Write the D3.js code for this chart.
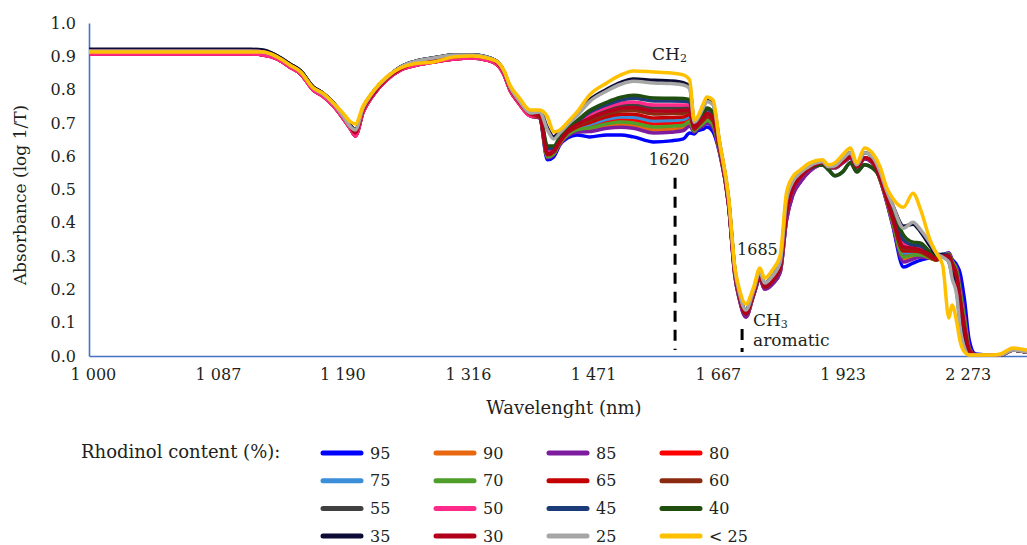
<!DOCTYPE html>
<html lang="en">
<head>
<meta charset="UTF-8">
<title>Absorbance spectra by rhodinol content</title>
<script src="https://d3js.org/d3.v7.min.js"></script>
<style>
  body { margin: 0; background: #fff; }
  svg text { font-family: "DejaVu Serif", serif; fill: #231f20; }
</style>
</head>
<body>
<div id="chart"></div>
<script>
// x positions of the sampled points, in wavenumber (cm-1); the axis is labelled in nm
const wavenumbers = [10020, 9440, 8990, 8910, 8820, 8740, 8670, 8590, 8530, 8460, 8400, 8350,
  8320, 8270, 8210, 8120, 8030, 7950, 7820, 7690, 7570, 7480, 7410, 7370, 7330, 7270, 7200,
  7140, 7090, 7050, 7010,
  6960, 6900, 6820, 6710, 6620, 6540, 6410, 6300, 6220, 6180, 6150, 6130, 6090, 6070, 6030, 5990,
  5930, 5890, 5860, 5820, 5770, 5730, 5700, 5650, 5600,
  5560, 5520, 5470, 5410, 5330, 5290, 5250, 5200, 5150, 5110, 5060, 5010,
  4960, 4920, 4880, 4810, 4750, 4700, 4640, 4600, 4560, 4520, 4500, 4470, 4450, 4420, 4390, 4350,
  4250, 4190, 4110, 4020];

const tickWavelengths = [1000, 1087, 1190, 1316, 1471, 1667, 1923, 2273];
const yTicks = [0, 0.1, 0.2, 0.3, 0.4, 0.5, 0.6, 0.7, 0.8, 0.9, 1.0];

const contents = ["95", "90", "85", "80", "75", "70", "65", "60", "55", "50", "45", "40", "35", "30", "25", "< 25"];
const colors = ["#0000ff", "#e8680f", "#7d1c9e", "#ff0000", "#3a8fd8", "#4f9f2a", "#c40000", "#8a2a10",
  "#404040", "#ff2a8a", "#1b3c78", "#1f4e0f", "#0b0b35", "#b2001a", "#a6a6a6", "#ffc000"];

const rh95 = [0.907,0.907,0.907,0.904,0.892,0.868,0.847,0.799,0.781,0.751,0.715,0.682,
  0.661,0.733,0.781,0.829,0.859,0.871,0.883,0.892,0.895,0.889,0.874,0.847,0.799,0.757,0.721,
  0.715,0.589,0.598,0.634,
  0.655,0.664,0.658,0.664,0.664,0.658,0.643,0.646,0.652,0.670,0.667,0.676,0.682,0.688,0.673,0.613,
  0.450,0.240,0.168,0.117,0.183,0.231,0.201,0.216,0.252,
  0.408,0.483,0.523,0.556,0.574,0.565,0.565,0.580,0.595,0.565,0.592,0.580,
  0.529,0.465,0.393,0.267,0.279,0.288,0.294,0.294,0.303,0.309,0.291,0.273,0.252,0.168,0.048,0.006,
  0.003,0.003,0.018,0.012];
const rh90 = [0.907,0.907,0.907,0.904,0.892,0.868,0.847,0.799,0.781,0.751,0.715,0.682,
  0.661,0.733,0.781,0.829,0.859,0.871,0.883,0.892,0.895,0.889,0.874,0.847,0.799,0.757,0.721,
  0.715,0.598,0.607,0.637,
  0.663,0.676,0.680,0.691,0.695,0.692,0.679,0.681,0.685,0.697,0.674,0.683,0.695,0.703,0.689,0.619,
  0.450,0.240,0.168,0.117,0.183,0.231,0.201,0.216,0.252,
  0.408,0.483,0.523,0.556,0.574,0.565,0.565,0.580,0.595,0.565,0.592,0.580,
  0.529,0.468,0.399,0.291,0.297,0.300,0.294,0.291,0.303,0.306,0.285,0.258,0.204,0.114,0.024,0.003,
  0.003,0.003,0.018,0.012];
const rh85 = [0.907,0.907,0.907,0.904,0.892,0.868,0.847,0.799,0.781,0.751,0.715,0.682,
  0.661,0.733,0.781,0.829,0.859,0.871,0.883,0.892,0.895,0.889,0.874,0.847,0.799,0.757,0.721,
  0.715,0.595,0.604,0.637,
  0.661,0.673,0.674,0.684,0.687,0.684,0.670,0.672,0.677,0.691,0.672,0.681,0.692,0.700,0.685,0.618,
  0.450,0.240,0.168,0.117,0.183,0.231,0.201,0.216,0.252,
  0.408,0.483,0.523,0.556,0.574,0.565,0.565,0.580,0.595,0.565,0.592,0.580,
  0.529,0.468,0.396,0.282,0.291,0.297,0.294,0.291,0.303,0.309,0.285,0.264,0.213,0.123,0.027,0.003,
  0.003,0.003,0.018,0.012];
const rh80 = [0.907,0.907,0.907,0.904,0.892,0.868,0.847,0.799,0.781,0.751,0.715,0.682,
  0.661,0.733,0.781,0.829,0.859,0.871,0.883,0.892,0.895,0.889,0.874,0.847,0.799,0.757,0.721,
  0.718,0.601,0.610,0.640,
  0.667,0.682,0.690,0.704,0.710,0.709,0.697,0.698,0.701,0.711,0.678,0.687,0.702,0.711,0.698,0.622,
  0.456,0.249,0.177,0.126,0.189,0.240,0.207,0.225,0.267,
  0.432,0.502,0.538,0.565,0.580,0.568,0.568,0.583,0.598,0.568,0.595,0.583,
  0.532,0.471,0.405,0.303,0.309,0.306,0.294,0.288,0.300,0.306,0.282,0.252,0.192,0.102,0.021,0.003,
  0.003,0.003,0.018,0.012];
const rh75 = [0.916,0.916,0.916,0.913,0.898,0.874,0.853,0.805,0.787,0.757,0.721,0.688,
  0.670,0.739,0.784,0.832,0.862,0.877,0.889,0.898,0.901,0.895,0.880,0.853,0.805,0.763,0.727,
  0.718,0.601,0.610,0.643,
  0.669,0.685,0.696,0.711,0.718,0.717,0.706,0.707,0.710,0.718,0.680,0.689,0.705,0.715,0.702,0.624,
  0.456,0.249,0.177,0.126,0.189,0.240,0.207,0.225,0.267,
  0.432,0.502,0.538,0.565,0.580,0.568,0.568,0.583,0.598,0.568,0.595,0.583,
  0.532,0.474,0.408,0.309,0.312,0.309,0.297,0.288,0.300,0.306,0.282,0.249,0.186,0.096,0.018,0.003,
  0.003,0.003,0.018,0.012];
const rh70 = [0.916,0.916,0.916,0.913,0.898,0.874,0.853,0.805,0.787,0.757,0.721,0.688,
  0.670,0.739,0.784,0.832,0.862,0.877,0.889,0.898,0.901,0.895,0.880,0.853,0.805,0.763,0.727,
  0.718,0.598,0.607,0.640,
  0.665,0.679,0.685,0.697,0.703,0.700,0.688,0.690,0.693,0.704,0.676,0.685,0.699,0.707,0.694,0.621,
  0.456,0.249,0.177,0.126,0.189,0.240,0.207,0.225,0.267,
  0.432,0.502,0.538,0.565,0.580,0.568,0.568,0.583,0.598,0.568,0.595,0.583,
  0.529,0.471,0.402,0.297,0.303,0.303,0.294,0.288,0.300,0.306,0.285,0.255,0.198,0.108,0.021,0.003,
  0.003,0.003,0.018,0.012];
const rh65 = [0.916,0.916,0.916,0.913,0.898,0.874,0.853,0.805,0.787,0.757,0.721,0.688,
  0.670,0.739,0.784,0.832,0.862,0.877,0.889,0.898,0.901,0.895,0.880,0.853,0.805,0.763,0.727,
  0.718,0.604,0.613,0.643,
  0.671,0.688,0.701,0.718,0.726,0.726,0.715,0.716,0.718,0.725,0.681,0.690,0.709,0.719,0.706,0.625,
  0.456,0.249,0.177,0.126,0.189,0.240,0.207,0.225,0.267,
  0.432,0.502,0.538,0.565,0.580,0.568,0.568,0.583,0.598,0.568,0.595,0.583,
  0.532,0.474,0.411,0.315,0.315,0.312,0.297,0.288,0.300,0.303,0.279,0.243,0.180,0.090,0.018,0.003,
  0.003,0.003,0.018,0.012];
const rh60 = [0.916,0.916,0.916,0.913,0.898,0.874,0.853,0.805,0.787,0.757,0.721,0.688,
  0.670,0.739,0.784,0.832,0.862,0.877,0.889,0.898,0.901,0.895,0.880,0.853,0.805,0.763,0.727,
  0.721,0.607,0.613,0.646,
  0.674,0.692,0.708,0.726,0.736,0.737,0.727,0.728,0.729,0.734,0.684,0.693,0.713,0.724,0.711,0.627,
  0.456,0.249,0.177,0.126,0.189,0.240,0.207,0.225,0.267,
  0.432,0.502,0.538,0.565,0.580,0.568,0.568,0.583,0.598,0.568,0.595,0.583,
  0.535,0.477,0.414,0.321,0.321,0.315,0.300,0.291,0.303,0.303,0.279,0.240,0.174,0.084,0.015,0.003,
  0.003,0.003,0.018,0.012];
const rh55 = [0.919,0.919,0.919,0.917,0.901,0.877,0.856,0.808,0.790,0.760,0.724,0.691,
  0.679,0.745,0.790,0.835,0.868,0.883,0.895,0.904,0.904,0.898,0.883,0.856,0.808,0.766,0.730,
  0.721,0.610,0.616,0.649,
  0.678,0.698,0.719,0.740,0.751,0.754,0.745,0.745,0.745,0.747,0.687,0.696,0.720,0.732,0.720,0.630,
  0.456,0.249,0.177,0.126,0.189,0.240,0.207,0.225,0.267,
  0.432,0.502,0.538,0.565,0.580,0.568,0.568,0.583,0.598,0.568,0.595,0.583,
  0.538,0.480,0.420,0.333,0.327,0.321,0.303,0.294,0.303,0.300,0.270,0.228,0.162,0.069,0.012,0.003,
  0.003,0.003,0.018,0.012];
const rh50 = [0.907,0.907,0.907,0.904,0.892,0.868,0.847,0.799,0.781,0.751,0.715,0.682,
  0.661,0.733,0.781,0.829,0.859,0.871,0.883,0.892,0.895,0.889,0.874,0.847,0.799,0.757,0.721,
  0.724,0.613,0.619,0.649,
  0.680,0.701,0.725,0.747,0.759,0.763,0.754,0.754,0.754,0.754,0.689,0.698,0.723,0.736,0.724,0.632,
  0.456,0.249,0.177,0.126,0.189,0.240,0.207,0.225,0.267,
  0.432,0.502,0.538,0.565,0.580,0.568,0.568,0.583,0.598,0.568,0.595,0.583,
  0.538,0.480,0.423,0.339,0.330,0.324,0.306,0.294,0.300,0.297,0.264,0.222,0.153,0.063,0.012,0.003,
  0.003,0.003,0.018,0.012];
const rh45 = [0.919,0.919,0.919,0.917,0.901,0.877,0.856,0.808,0.790,0.760,0.724,0.691,
  0.679,0.745,0.790,0.835,0.868,0.883,0.895,0.904,0.904,0.898,0.883,0.856,0.808,0.766,0.730,
  0.724,0.622,0.625,0.652,
  0.683,0.704,0.732,0.755,0.769,0.774,0.766,0.766,0.765,0.763,0.692,0.701,0.728,0.741,0.729,0.634,
  0.456,0.249,0.177,0.126,0.189,0.240,0.207,0.225,0.267,
  0.444,0.511,0.541,0.565,0.574,0.559,0.541,0.553,0.580,0.553,0.574,0.565,
  0.541,0.483,0.432,0.348,0.333,0.330,0.309,0.297,0.306,0.300,0.258,0.213,0.132,0.048,0.009,0.003,
  0.003,0.003,0.018,0.012];
const rh40 = [0.919,0.919,0.919,0.917,0.901,0.877,0.856,0.808,0.790,0.760,0.724,0.691,
  0.679,0.745,0.790,0.835,0.868,0.883,0.895,0.904,0.904,0.898,0.883,0.856,0.808,0.766,0.730,
  0.727,0.631,0.631,0.658,
  0.685,0.707,0.737,0.762,0.777,0.783,0.775,0.774,0.773,0.770,0.693,0.702,0.731,0.745,0.733,0.636,
  0.468,0.258,0.186,0.138,0.198,0.252,0.219,0.240,0.282,
  0.444,0.511,0.541,0.565,0.574,0.559,0.541,0.553,0.580,0.553,0.574,0.565,
  0.535,0.483,0.438,0.363,0.342,0.339,0.312,0.297,0.300,0.282,0.243,0.198,0.114,0.039,0.006,0.003,
  0.003,0.003,0.018,0.012];
const rh35 = [0.921,0.921,0.921,0.919,0.901,0.877,0.856,0.808,0.790,0.760,0.724,0.691,
  0.679,0.745,0.790,0.835,0.868,0.883,0.895,0.904,0.904,0.898,0.883,0.856,0.808,0.766,0.730,
  0.736,0.685,0.658,0.676,
  0.697,0.725,0.769,0.801,0.822,0.832,0.828,0.826,0.821,0.810,0.704,0.713,0.751,0.767,0.757,0.645,
  0.468,0.258,0.186,0.138,0.198,0.252,0.219,0.240,0.282,
  0.468,0.523,0.550,0.571,0.583,0.568,0.571,0.592,0.610,0.574,0.610,0.598,
  0.553,0.498,0.453,0.390,0.396,0.372,0.330,0.306,0.303,0.294,0.252,0.198,0.108,0.033,0.006,0.003,
  0.003,0.003,0.018,0.012];
const rh30 = [0.916,0.916,0.916,0.913,0.898,0.874,0.853,0.805,0.787,0.757,0.721,0.688,
  0.670,0.739,0.784,0.832,0.862,0.877,0.889,0.898,0.901,0.895,0.880,0.853,0.805,0.763,0.727,
  0.721,0.607,0.616,0.646,
  0.676,0.695,0.714,0.733,0.744,0.746,0.736,0.736,0.737,0.740,0.686,0.695,0.717,0.728,0.716,0.629,
  0.456,0.249,0.177,0.126,0.189,0.240,0.207,0.225,0.267,
  0.432,0.502,0.538,0.565,0.580,0.568,0.568,0.583,0.598,0.568,0.595,0.583,
  0.535,0.477,0.417,0.327,0.324,0.318,0.303,0.291,0.300,0.300,0.273,0.234,0.168,0.078,0.015,0.003,
  0.003,0.003,0.018,0.012];
const rh25 = [0.916,0.916,0.916,0.913,0.898,0.874,0.853,0.805,0.787,0.757,0.721,0.688,
  0.679,0.745,0.790,0.835,0.868,0.883,0.895,0.904,0.904,0.898,0.883,0.856,0.808,0.766,0.730,
  0.733,0.679,0.652,0.670,
  0.695,0.722,0.764,0.796,0.816,0.825,0.820,0.818,0.814,0.804,0.702,0.711,0.748,0.764,0.754,0.643,
  0.468,0.258,0.186,0.138,0.198,0.252,0.219,0.240,0.282,
  0.468,0.523,0.550,0.571,0.583,0.568,0.571,0.592,0.610,0.574,0.610,0.598,
  0.553,0.498,0.453,0.384,0.402,0.378,0.339,0.309,0.297,0.282,0.234,0.183,0.093,0.024,0.003,0.003,
  0.003,0.003,0.018,0.012];
const rhLt25 = [0.913,0.913,0.913,0.913,0.898,0.874,0.853,0.805,0.790,0.760,0.730,0.703,
  0.697,0.751,0.793,0.838,0.865,0.877,0.883,0.898,0.901,0.895,0.883,0.859,0.814,0.775,0.739,
  0.739,0.718,0.673,0.679,
  0.703,0.733,0.784,0.820,0.844,0.856,0.853,0.850,0.844,0.829,0.709,0.718,0.760,0.778,0.769,0.649,
  0.477,0.267,0.198,0.156,0.207,0.264,0.234,0.258,0.303,
  0.489,0.538,0.559,0.580,0.589,0.574,0.580,0.604,0.625,0.580,0.625,0.610,
  0.568,0.508,0.474,0.447,0.489,0.438,0.348,0.309,0.273,0.114,0.153,0.102,0.048,0.012,0.003,0.003,
  0.003,0.006,0.024,0.018];

const seriesValues = [rh95, rh90, rh85, rh80, rh75, rh70, rh65, rh60, rh55, rh50, rh45, rh40, rh35, rh30, rh25, rhLt25];

// band annotations: wavenumber, absorbance
const bandMarks = [
  { label: "1620", wn: 6273, top: 0.535, bottom: 0.018 },
  { label: "1685", wn: 5844, top: 0.081, bottom: 0.012 }
];
const notes = [
  { text: "CH", sub: "2", wn: 6420, a: 0.889, anchor: "start" },
  { text: "1620", wn: 6311, a: 0.574, anchor: "middle" },
  { text: "1685", wn: 5876, a: 0.303, anchor: "start" },
  { text: "CH", sub: "3", wn: 5774, a: 0.090, anchor: "start" },
  { text: "aromatic", wn: 5774, a: 0.030, anchor: "start" }
];

const width = 1027, height = 545;
const svg = d3.select("#chart").append("svg")
  .attr("width", width).attr("height", height);

const x = d3.scaleLinear().domain([10025, 4020]).range([89, 1027]);
const y = d3.scaleLinear().domain([0, 1]).range([356, 23]);

// axes
const yAxis = svg.append("g").attr("transform", "translate(89,0)")
  .call(d3.axisLeft(y).tickValues(yTicks).tickSize(0).tickPadding(13).tickFormat(d3.format(".1f")));
yAxis.select(".domain").attr("stroke", "#4472c4").attr("stroke-width", 1.6);
yAxis.selectAll("text").attr("font-size", 16).attr("font-family", "DejaVu Serif").attr("fill", "#231f20");

const fmt = d => d3.format(",")(d).replace(",", " ");
const xAxis = svg.append("g").attr("transform", "translate(0,356)")
  .call(d3.axisBottom(x).tickValues(tickWavelengths.map(l => 1e7 / l))
    .tickSize(0).tickPadding(13)
    .tickFormat((d, i) => fmt(tickWavelengths[i])));
xAxis.select(".domain").attr("stroke", "#4472c4").attr("stroke-width", 1.6);
xAxis.selectAll("text").attr("font-size", 16).attr("font-family", "DejaVu Serif").attr("fill", "#231f20");

svg.append("text")
  .attr("transform", "translate(26,195) rotate(-90)")
  .attr("text-anchor", "middle").attr("font-size", 17)
  .text("Absorbance (log 1/T)");
svg.append("text")
  .attr("x", 564).attr("y", 414)
  .attr("text-anchor", "middle").attr("font-size", 18)
  .text("Wavelenght (nm)");

// spectra
svg.append("clipPath").attr("id", "plot").append("rect")
  .attr("x", 89).attr("y", 0).attr("width", width - 89).attr("height", 360);

const line = d3.line()
  .x((d, i) => x(wavenumbers[i]))
  .y(d => y(d))
  .curve(d3.curveMonotoneX);

svg.append("g").attr("clip-path", "url(#plot)")
  .selectAll("path")
  .data(seriesValues)
  .join("path")
  .attr("d", line)
  .attr("fill", "none")
  .attr("stroke", (d, i) => colors[i])
  .attr("stroke-width", 3.5)
  .attr("stroke-linejoin", "round")
  .attr("stroke-linecap", "round");

// annotations
svg.selectAll(".band")
  .data(bandMarks)
  .join("line")
  .attr("class", "band")
  .attr("x1", d => x(d.wn)).attr("x2", d => x(d.wn))
  .attr("y1", d => y(d.top)).attr("y2", d => y(d.bottom))
  .attr("stroke", "#000").attr("stroke-width", 3)
  .attr("stroke-dasharray", "11 8");

const noteText = svg.selectAll(".note")
  .data(notes)
  .join("text")
  .attr("class", "note")
  .attr("x", d => x(d.wn)).attr("y", d => y(d.a))
  .attr("text-anchor", d => d.anchor)
  .attr("font-size", d => d.sub || d.text === "aromatic" ? 17 : 16);
noteText.append("tspan").text(d => d.text);
noteText.filter(d => d.sub).append("tspan")
  .attr("font-size", 11).attr("dy", 2)
  .text(d => d.sub);

// legend
svg.append("text")
  .attr("x", 81).attr("y", 458).attr("font-size", 18)
  .text("Rhodinol content (%):");

const legend = svg.selectAll(".legend")
  .data(contents)
  .join("g")
  .attr("class", "legend")
  .attr("transform", (d, i) => `translate(${323 + (i % 4) * 113},${453 + Math.floor(i / 4) * 27.7})`);
legend.append("line")
  .attr("x1", 0).attr("x2", 38)
  .attr("stroke", (d, i) => colors[i])
  .attr("stroke-width", 5).attr("stroke-linecap", "round");
legend.append("text")
  .attr("x", 47).attr("y", 5.5).attr("font-size", 16)
  .text(d => d);
</script>
</body>
</html>
